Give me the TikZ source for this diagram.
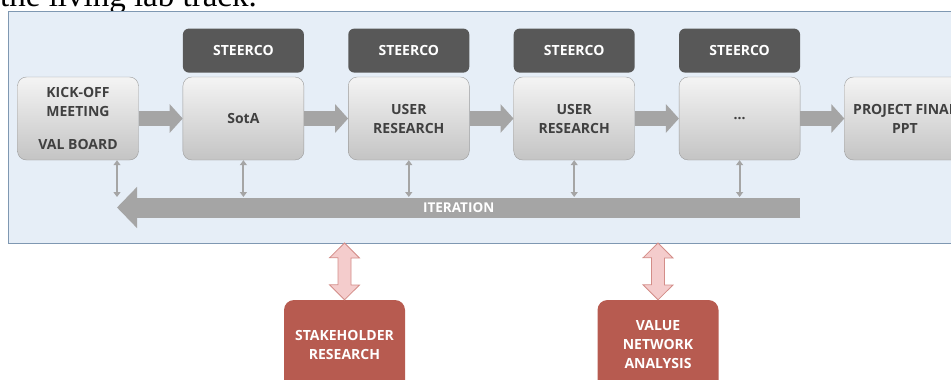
\documentclass[tikz,border=0pt]{standalone}
\usepackage{fontspec}
\setmainfont{Liberation Serif}
\newfontfamily\labfont{Open Sans}
\usetikzlibrary{positioning,arrows.meta,calc}

\definecolor{panelfill}{HTML}{E6EEF7}
\definecolor{paneldraw}{HTML}{7F98B2}
\definecolor{stagetop}{HTML}{F4F4F4}
\definecolor{stagebot}{HTML}{C4C4C4}
\definecolor{stagedraw}{HTML}{9C9C9C}
\definecolor{stagetext}{HTML}{404040}
\definecolor{steerfill}{HTML}{585858}
\definecolor{flowgrey}{HTML}{A5A5A5}
\definecolor{redfill}{HTML}{B75B50}
\definecolor{pinkfill}{HTML}{F4CCCC}
\definecolor{pinkdraw}{HTML}{D38D88}

\tikzset{
  boxtext/.style={font=\labfont\bfseries\fontsize{14}{19}\selectfont},
  stage/.style={boxtext, draw=stagedraw, rounded corners=9pt,
    top color=stagetop, bottom color=stagebot, text=stagetext,
    minimum width=121pt, minimum height=83pt, align=center},
  steerco/.style={boxtext, fill=steerfill, rounded corners=6pt, text=white,
    minimum width=121pt, minimum height=44pt},
  research/.style={boxtext, fill=redfill, rounded corners=10pt, text=white,
    minimum width=121pt, minimum height=90pt, align=center},
  flow/.style={draw=flowgrey, line width=15pt, -{Triangle[width=28pt,length=13pt]}},
  iteration/.style={draw=flowgrey, line width=20pt, -{Triangle[width=40pt,length=20pt]}},
  link/.style={draw=flowgrey, line width=2pt, {Triangle[width=7pt,length=5pt]}-{Triangle[width=7pt,length=5pt]}},
  bothway/.style={fill=pinkfill, draw=pinkdraw, line width=0.8pt, line join=miter}
}

\begin{document}
\begin{tikzpicture}[x=1pt,y=-1pt]
  \useasboundingbox (0,0) rectangle (951,380);
  \clip (0,0) rectangle (951,380);

  % caption line cut off at the top
  \node[anchor=base west, inner sep=0pt, font=\fontsize{33}{33}\selectfont] (caption) at (0,6) {the living lab track.};

  % living lab panel
  \draw[fill=panelfill, draw=paneldraw, line width=0.8pt] (8,11) rectangle (975,243);
  \coordinate (panelbottom) at (0,243);

  % stages
  \node[stage] (kickoff) at (78,118.5) {KICK-OFF\\MEETING\\[14pt]VAL BOARD};
  \node[stage, right=44pt of kickoff] (sota) {SotA};
  \node[stage, right=44pt of sota] (user1) {USER\\RESEARCH};
  \node[stage, right=44pt of user1] (user2) {USER\\RESEARCH};
  \node[stage, right=44pt of user2] (more) {\dots};
  \node[stage, right=44pt of more] (final) {PROJECT FINAL\\PPT};

  \foreach \s in {sota,user1,user2,more}
    \node[steerco, above=4pt of \s] (steer-\s) {STEERCO};

  \draw[flow] (kickoff) -- (sota);
  \draw[flow] (sota) -- (user1);
  \draw[flow] (user1) -- (user2);
  \draw[flow] (user2) -- (more);
  \draw[flow] (more) -- (final);

  % iteration back arrow
  \coordinate (iterhead) at (117,207.5);
  \coordinate (itertail) at (more.east |- iterhead);
  \coordinate (itertop) at (0,197);
  \draw[iteration] (itertail) -- (iterhead)
    node[midway, text=white, font=\labfont\bfseries\fontsize{13.5}{13.5}\selectfont] (iterlabel) {ITERATION};

  \draw[link] (kickoff.south -| iterhead) -- (iterhead |- itertop);
  \foreach \s in {sota,user1,user2,more}
    \draw[link] (\s.south) -- (\s.south |- itertop);

  % outside research
  \node[research] (stake) at (344.5,345) {STAKEHOLDER\\RESEARCH};
  \node[research] (vna) at (658,345) {VALUE\\NETWORK\\ANALYSIS};

  \foreach \r in {stake,vna}
    \draw[bothway] (\r.north |- panelbottom) -- ++(15,15) -- ++(-8.5,0) -- ++(0,27)
      -- ++(8.5,0) -- (\r.north) -- ++(-15,-15) -- ++(8.5,0) -- ++(0,-27) -- ++(-8.5,0) -- cycle;
\end{tikzpicture}
\end{document}
